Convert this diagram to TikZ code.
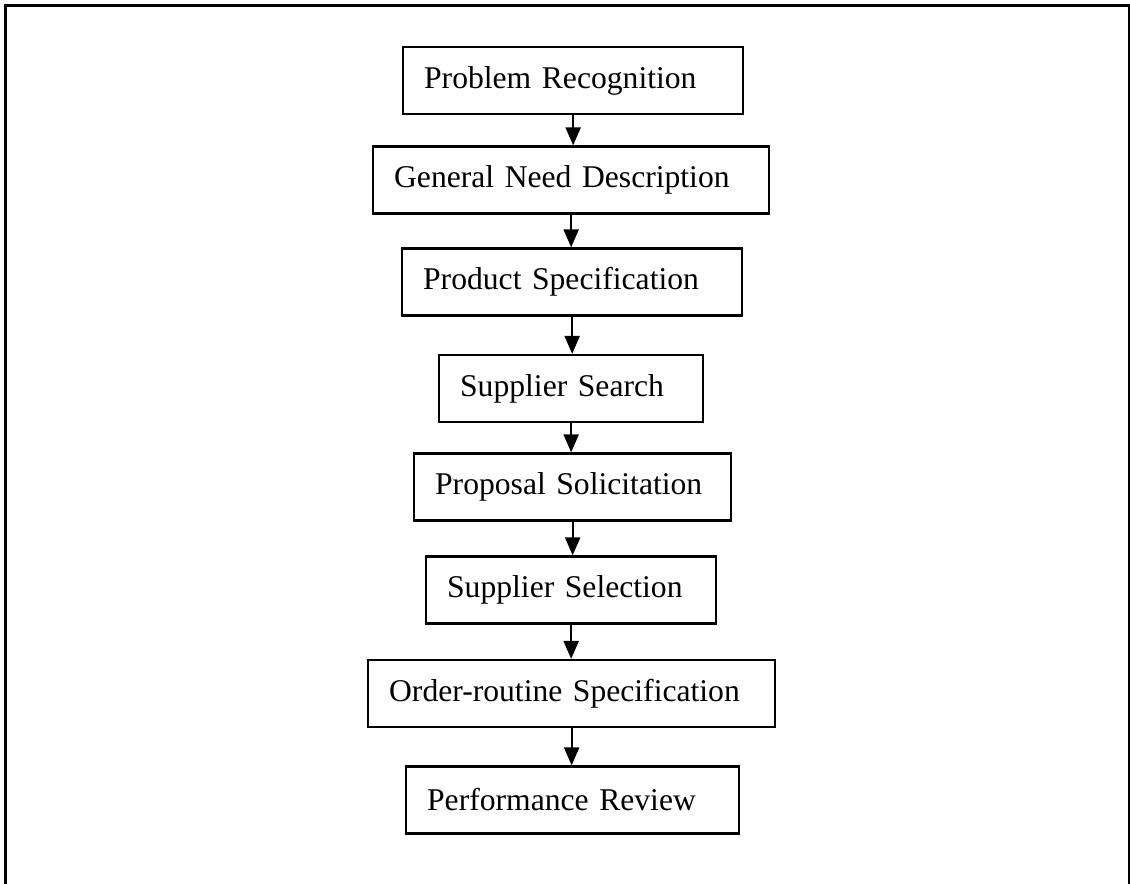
\documentclass[tikz,border=0pt]{standalone}
\usepackage{fontspec}
\setmainfont{Liberation Serif}
\usetikzlibrary{arrows.meta}

\tikzset{
  stage/.style={shape=rectangle,draw,line width=1.3pt,anchor=west,
    minimum height=1.34cm,inner xsep=0.42cm,align=left,text width=#1,
    font=\fontsize{18}{21}\selectfont},
  flow/.style={line width=1.3pt,-{Triangle[length=0.36cm,width=0.3cm]}}
}

\begin{document}
\begin{tikzpicture}%
                \useasboundingbox (0,0) rectangle (22.6,-17.68);
                \draw[line width=1.4pt] (0.11,-17.68) -- (0.11,-0.11) -- (22.58,-0.11) -- (22.58,-17.68);

                \node[stage=5.96cm] (pr) at (8.04,-1.61) {Problem Recognition};
                \node[stage=7.08cm] (gnd) at (7.44,-3.60) {General Need Description};
                \node[stage=5.96cm] (ps) at (8.02,-5.64) {Product Specification};
                \node[stage=4.44cm] (ss) at (8.76,-7.77) {Supplier Search};
                \node[stage=5.50cm] (psol) at (8.26,-9.74) {Proposal Solicitation};
                \node[stage=4.96cm] (ssel) at (8.50,-11.80) {Supplier Selection};
                \node[stage=7.30cm] (ors) at (7.34,-13.87) {Order-routine Specification};
                \node[stage=5.82cm] (prev) at (8.10,-16.00) {Performance Review};

                \path [flow] (pr.south) edge (pr.south |- gnd.north);
                \path [flow] (gnd.south) edge (gnd.south |- ps.north);
                \path [flow] (ps.south) edge (ps.south |- ss.north);
                \path [flow] (ss.south) edge (ss.south |- psol.north);
                \path [flow] (psol.south) edge (psol.south |- ssel.north);
                \path [flow] (ssel.south) edge (ssel.south |- ors.north);
                \path [flow] (ors.south) edge (ors.south |- prev.north);
            \end{tikzpicture}
\end{document}
